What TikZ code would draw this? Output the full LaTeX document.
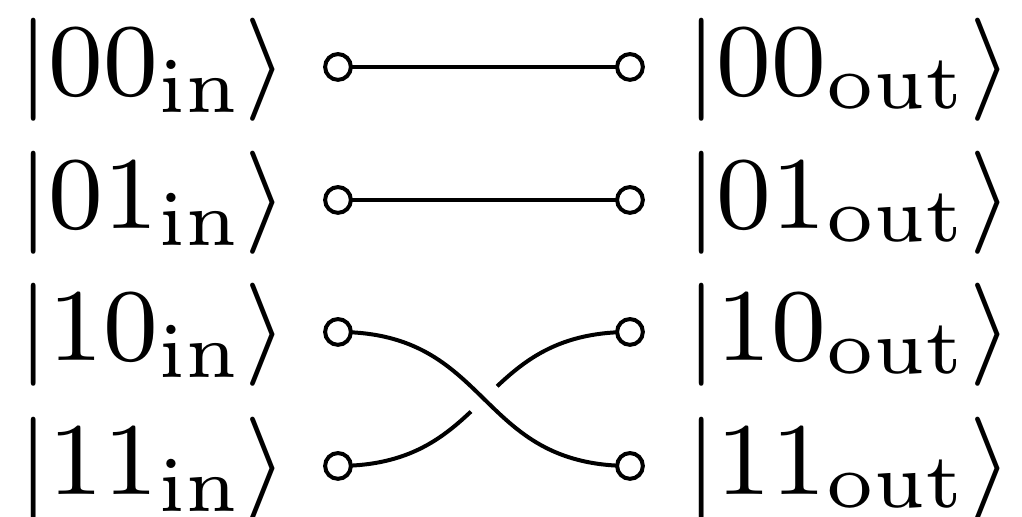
\documentclass[tikz,border=0pt]{standalone}
\begin{document}
\begin{tikzpicture}[x=0.0776pt,y=-0.0776pt,
  port/.style={circle,draw,fill=white,line width=0.31pt,minimum size=2.0pt,inner sep=0pt},
  ket/.style={inner sep=0pt,anchor=base west,font=\fontsize{8}{9.6}\selectfont},
  wire/.style={line width=0.31pt}]
\useasboundingbox (0,0) rectangle (1022,517);
\foreach \r/\y in {00/67,01/200,10/332,11/466}{
  \node[ket] (in\r) at (16,\y+29) {$|\r_{\mathrm{in}}\rangle$};
  \node[ket] (out\r) at (684,\y+29) {$|\r_{\mathrm{out}}\rangle$};
  \coordinate (l\r) at (338,\y);
  \coordinate (r\r) at (630,\y);
}
\draw[wire] (l00) -- (r00);
\draw[wire] (l01) -- (r01);
\draw[wire] (l11) .. controls ++(155,0) and ++(-155,0) .. (r10);
\draw[white,line width=2.8pt] (l10) .. controls ++(155,0) and ++(-155,0) .. (r11);
\draw[wire] (l10) .. controls ++(155,0) and ++(-155,0) .. (r11);
\foreach \r in {00,01,10,11}{
  \node[port] (pl\r) at (l\r) {};
  \node[port] (pr\r) at (r\r) {};
}
\end{tikzpicture}
\end{document}
